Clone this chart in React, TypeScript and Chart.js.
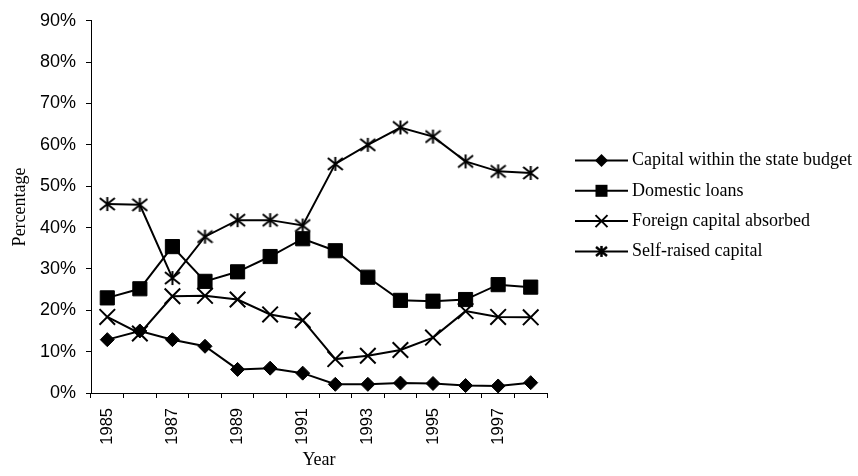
import React, { useEffect, useRef } from "react";
import { Chart, registerables } from "chart.js";

Chart.register(...registerables);

const years = ["1985", "1986", "1987", "1988", "1989", "1990", "1991", "1992", "1993", "1994", "1995", "1996", "1997", "1998"];
const budgetCapital = [12.9, 15.0, 12.9, 11.3, 5.7, 6.0, 4.8, 2.1, 2.1, 2.4, 2.3, 1.8, 1.7, 2.5];
const domesticLoans = [23.0, 25.2, 35.4, 27.0, 29.3, 33.0, 37.3, 34.4, 28.0, 22.4, 22.2, 22.6, 26.2, 25.6];
const foreignCapital = [18.4, 14.4, 23.4, 23.5, 22.6, 19.0, 17.6, 8.2, 9.0, 10.4, 13.4, 19.8, 18.4, 18.3];
const selfRaised = [45.7, 45.5, 27.8, 37.8, 41.8, 41.8, 40.5, 55.4, 60.0, 64.2, 62.0, 56.0, 53.6, 53.2];
const seriesNames = ["Capital within the state budget", "Domestic loans", "Foreign capital absorbed", "Self-raised capital"];
const yTicks = [0, 10, 20, 30, 40, 50, 60, 70, 80, 90];

const SERIF = '"Liberation Serif", "Times New Roman", serif';
const SANS = '"Liberation Sans", Arial, sans-serif';

function makeStar(w: number, h: number, lw: number): HTMLCanvasElement {
  const c = document.createElement("canvas");
  c.width = w;
  c.height = h;
  const ctx = c.getContext("2d")!;
  ctx.strokeStyle = "#000";
  ctx.lineWidth = lw;
  ctx.lineCap = "butt";
  const p = 1;
  ctx.beginPath();
  ctx.moveTo(p, p + 1);
  ctx.lineTo(w - p, h - p - 1);
  ctx.moveTo(w - p, p + 1);
  ctx.lineTo(p, h - p - 1);
  ctx.moveTo(w / 2, p);
  ctx.lineTo(w / 2, h - p);
  ctx.stroke();
  return c;
}

export default function App() {
  const ref = useRef<HTMLCanvasElement>(null);
  useEffect(() => {
    const star = makeStar(17, 16, 2);
    const starSmall = makeStar(13, 13, 2.5);

    const legendPlugin = {
      id: "customLegend",
      afterDraw(chart: any) {
        const ctx = chart.ctx;
        ctx.save();
        for (let i = 0; i < 4; i++) {
          const y = 160.5 + i * 30.3;
          ctx.strokeStyle = "#000";
          ctx.lineWidth = 2;
          ctx.beginPath();
          ctx.moveTo(575, y);
          ctx.lineTo(628, y);
          ctx.stroke();
          const mx = 601.5;
          ctx.fillStyle = "#000";
          if (i === 0) {
            ctx.beginPath();
            ctx.moveTo(mx - 6.5, y);
            ctx.lineTo(mx, y - 6.5);
            ctx.lineTo(mx + 6.5, y);
            ctx.lineTo(mx, y + 6.5);
            ctx.closePath();
            ctx.fill();
          } else if (i === 1) {
            ctx.fillRect(mx - 6, y - 6, 12, 12);
          } else if (i === 2) {
            ctx.beginPath();
            ctx.moveTo(mx - 6, y - 6);
            ctx.lineTo(mx + 6, y + 6);
            ctx.moveTo(mx + 6, y - 6);
            ctx.lineTo(mx - 6, y + 6);
            ctx.stroke();
          } else {
            ctx.drawImage(starSmall, mx - 6.5, y - 6.5);
          }
          ctx.fillStyle = "#000";
          ctx.font = "18px " + SERIF;
          ctx.textBaseline = "middle";
          ctx.textAlign = "left";
          ctx.fillText(seriesNames[i], 632, y);
        }
        ctx.restore();
      },
    };

    const common = {
      borderColor: "#000",
      backgroundColor: "#000",
      borderWidth: 2,
      pointBackgroundColor: "#000",
      pointBorderColor: "#000",
      tension: 0,
      fill: false,
    };

    const chart = new Chart(ref.current!, {
      type: "line",
      data: {
        labels: years,
        datasets: [
          { ...common, label: seriesNames[0], data: budgetCapital, pointStyle: "rectRot", pointRadius: 7, pointBorderWidth: 1 },
          { ...common, label: seriesNames[1], data: domesticLoans, pointStyle: "rect", pointRadius: 10, pointBorderWidth: 1 },
          { ...common, label: seriesNames[2], data: foreignCapital, pointStyle: "crossRot", pointRadius: 11, pointBorderWidth: 2 },
          { ...common, label: seriesNames[3], data: selfRaised, pointStyle: star as any, pointRadius: 8, pointBorderWidth: 2 },
        ],
      },
      options: {
        animation: false,
        responsive: true,
        maintainAspectRatio: false,
        layout: { padding: { top: 17, right: 311, left: 0, bottom: 0 } },
        plugins: { legend: { display: false }, tooltip: { enabled: false } },
        scales: {
          x: {
            type: "category",
            offset: true,
            afterFit: (s: any) => {
              s.height = 83;
            },
            grid: { display: true, offset: true, drawOnChartArea: false, drawTicks: true, tickLength: 5, color: "#000", lineWidth: 1 },
            border: { display: true, color: "#000", width: 1 },
            ticks: {
              autoSkip: false,
              maxRotation: 90,
              minRotation: 90,
              padding: 10,
              color: "#000",
              font: { family: SANS, size: 16.5 },
              callback: (_v: any, i: number) => (i % 2 === 0 ? years[i] : ""),
            },
            title: {
              display: true,
              text: "Year",
              color: "#000",
              font: { family: SERIF, size: 18 },
              padding: { top: 0, bottom: 5 },
            },
          },
          y: {
            min: 0,
            max: 90,
            afterFit: (s: any) => {
              s.width = 91;
            },
            afterBuildTicks: (s: any) => {
              s.ticks = yTicks.map((v) => ({ value: v }));
            },
            grid: { display: true, drawOnChartArea: false, drawTicks: true, tickLength: 5, color: "#000", lineWidth: 1 },
            border: { display: true, color: "#000", width: 1 },
            ticks: {
              padding: 10,
              color: "#000",
              font: { family: SANS, size: 18 },
              callback: (v: any) => v + "%",
            },
            title: {
              display: true,
              text: "Percentage",
              color: "#000",
              font: { family: SERIF, size: 18 },
              padding: { top: 9, bottom: 0 },
            },
          },
        },
      },
      plugins: [legendPlugin],
    });
    return () => chart.destroy();
  }, []);

  return (
    <div style={{ position: "fixed", left: 0, top: 0, width: 858, height: 476, background: "#fff" }}>
      <canvas ref={ref} />
    </div>
  );
}
